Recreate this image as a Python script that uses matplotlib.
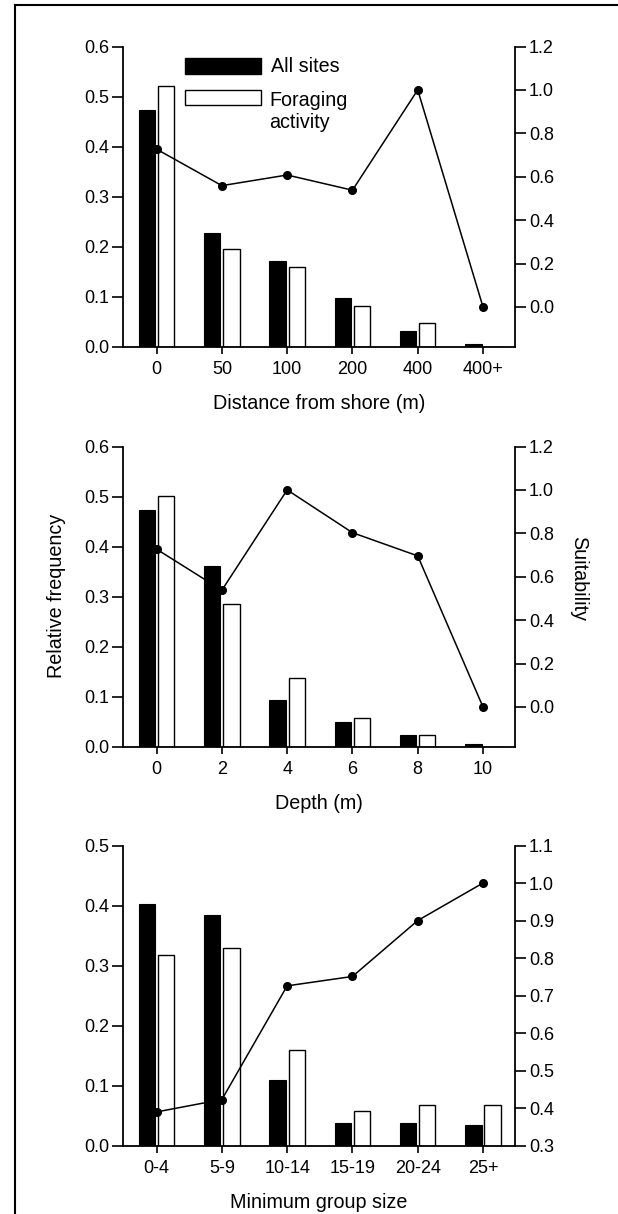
import matplotlib
matplotlib.use("Agg")
import matplotlib.pyplot as plt
import numpy as np
from matplotlib.patches import Rectangle
from matplotlib.lines import Line2D

plt.rcParams['font.family'] = ['Liberation Sans', 'DejaVu Sans']

# distance from shore
dist_labels = ['0', '50', '100', '200', '400', '400+']
dist_all = [0.473, 0.228, 0.172, 0.098, 0.031, 0.005]
dist_forage = [0.522, 0.195, 0.160, 0.081, 0.047, 0.0]
dist_suit = [0.727, 0.559, 0.608, 0.538, 1.0, 0.0]

# depth
depth_labels = ['0', '2', '4', '6', '8', '10']
depth_all = [0.474, 0.362, 0.094, 0.049, 0.023, 0.005]
depth_forage = [0.501, 0.285, 0.138, 0.057, 0.023, 0.0]
depth_suit = [0.727, 0.538, 1.0, 0.803, 0.696, 0.0]

# minimum group size
group_labels = ['0-4', '5-9', '10-14', '15-19', '20-24', '25+']
group_all = [0.402, 0.384, 0.109, 0.038, 0.038, 0.034]
group_forage = [0.318, 0.330, 0.160, 0.057, 0.068, 0.068]
group_suit = [0.390, 0.423, 0.726, 0.751, 0.900, 1.0]

FS = 13      # tick labels
LFS = 14.2   # axis labels / legend text
W, H = 618, 1214

fig = plt.figure(figsize=(W / 100, H / 100), dpi=100)


def panel(top_px, labels, all_vals, forage_vals, suit_vals, lmax, rlim, rticks, xlabel):
    left = 123.3 / W
    width = (515 - 123.3) / W
    height = 300.2 / H
    bottom = 1 - (top_px + 300.2) / H
    ax = fig.add_axes([left, bottom, width, height])
    x = np.arange(len(labels))
    ax.bar(x - 0.147, all_vals, 0.25, color='black', edgecolor='black', linewidth=0.8)
    ax.bar(x + 0.147, forage_vals, 0.25, color='white', edgecolor='black', linewidth=1.0)
    ax.set_xlim(-0.51, 5.49)
    ax.set_ylim(0, lmax)
    yt = np.round(np.arange(0, lmax + 0.001, 0.1), 1)
    ax.set_yticks(yt)
    ax.set_yticklabels(['%.1f' % v for v in yt])
    ax.set_xticks(x)
    ax.set_xticklabels(labels)
    ax.spines['top'].set_visible(False)
    ax.spines['right'].set_visible(False)
    for s in ['left', 'bottom']:
        ax.spines[s].set_linewidth(1.3)
    ax.tick_params(axis='y', length=8, width=1.2, pad=2, labelsize=FS)
    ax.tick_params(axis='x', length=5, width=1.2, pad=5, labelsize=FS)
    ax.set_xlabel(xlabel, fontsize=LFS, labelpad=12)

    ax2 = ax.twinx()
    ax2.plot(x, suit_vals, '-o', color='black', linewidth=1.1, markersize=5.5)
    ax2.set_ylim(*rlim)
    ax2.set_yticks(rticks)
    ax2.set_yticklabels(['%.1f' % v for v in rticks])
    for s in ['top', 'left', 'bottom']:
        ax2.spines[s].set_visible(False)
    ax2.spines['right'].set_linewidth(1.3)
    ax2.tick_params(axis='y', length=8, width=1.2, pad=2, labelsize=FS)
    return ax


ax1 = panel(46.5, dist_labels, dist_all, dist_forage, dist_suit, 0.6,
            (-0.183, 1.2), np.round(np.arange(0, 1.21, 0.2), 1), 'Distance from shore (m)')
panel(446.5, depth_labels, depth_all, depth_forage, depth_suit, 0.6,
      (-0.183, 1.2), np.round(np.arange(0, 1.21, 0.2), 1), 'Depth (m)')
panel(845.5, group_labels, group_all, group_forage, group_suit, 0.5,
      (0.3, 1.1), np.round(np.arange(0.3, 1.101, 0.1), 1), 'Minimum group size')

# legend drawn by hand so the box lines up with the first text line
ax1.add_patch(Rectangle((0.1575, 0.908), 0.194, 0.054, transform=ax1.transAxes,
                        facecolor='black', edgecolor='black', linewidth=1, zorder=5))
ax1.add_patch(Rectangle((0.1575, 0.805), 0.194, 0.050, transform=ax1.transAxes,
                        facecolor='white', edgecolor='black', linewidth=1, zorder=5))
ax1.text(0.377, 0.935, 'All sites', transform=ax1.transAxes, fontsize=LFS, va='center')
ax1.text(0.372, 0.785, 'Foraging\nactivity', transform=ax1.transAxes, fontsize=LFS,
         va='center', linespacing=1.2)

fig.text(57 / W, 1 - 596 / H, 'Relative frequency', rotation=90, ha='center', va='center', fontsize=LFS)
fig.text(579 / W, 1 - 579 / H, 'Suitability', rotation=270, ha='center', va='center', fontsize=LFS)

# border on top and left
fig.add_artist(Line2D([15 / W, 15 / W], [0, 1 - 4.5 / H], transform=fig.transFigure, color='black', linewidth=1.5))
fig.add_artist(Line2D([15 / W, 1], [1 - 4.5 / H, 1 - 4.5 / H], transform=fig.transFigure, color='black', linewidth=1.5))

fig.savefig('out.png', dpi=100)
